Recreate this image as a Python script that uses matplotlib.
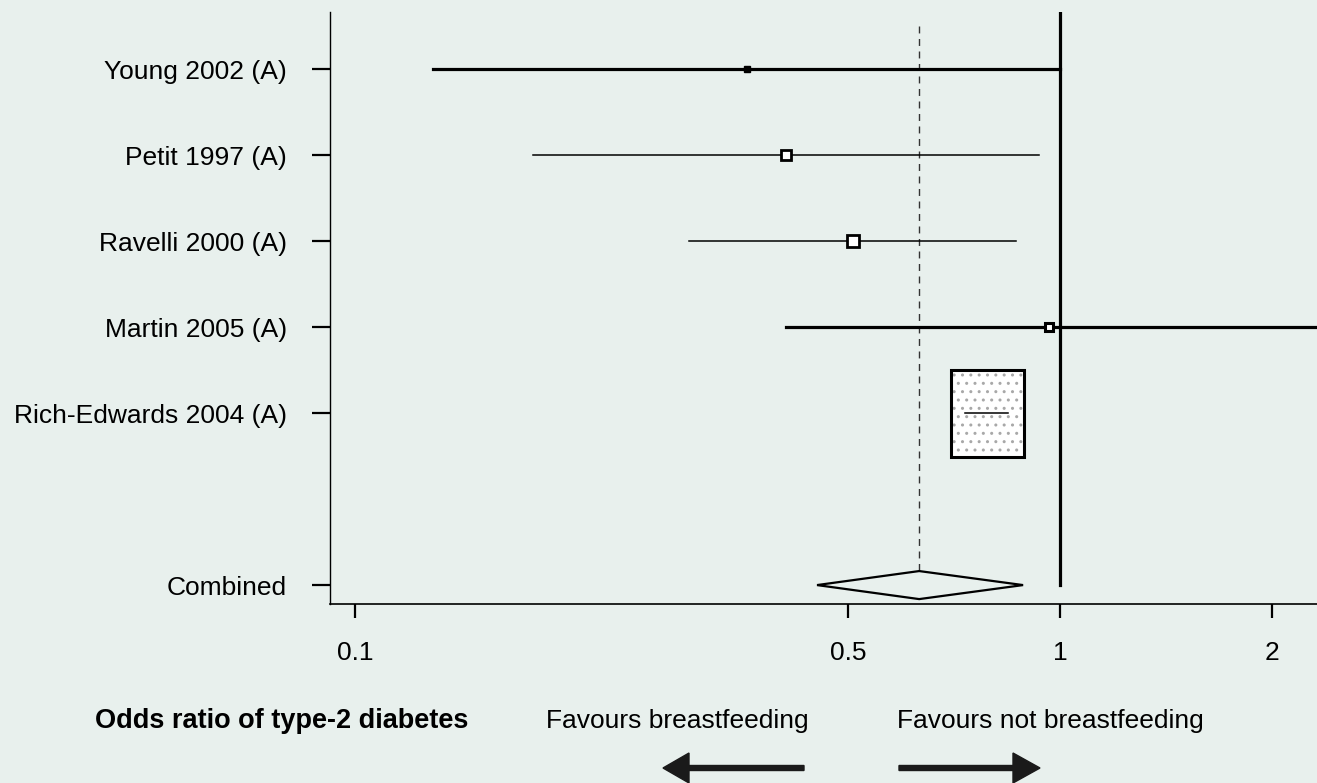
import numpy as np
import matplotlib
matplotlib.use('Agg')
import matplotlib.pyplot as plt
from matplotlib.patches import Rectangle, FancyArrow
from matplotlib.transforms import ScaledTranslation
from matplotlib.ticker import NullLocator

plt.rcParams['font.family'] = ['Liberation Sans', 'DejaVu Sans']
plt.rcParams['hatch.linewidth'] = 1.0

# study estimates (odds ratio with 95% CI)
studies = ['Young 2002 (A)', 'Petit 1997 (A)', 'Ravelli 2000 (A)',
           'Martin 2005 (A)', 'Rich-Edwards 2004 (A)']
odds = [0.359, 0.409, 0.509, 0.965, 0.789]
lower = [0.129, 0.179, 0.298, 0.409, 0.733]
upper = [1.00, 0.934, 0.866, 2.6, 0.844]

combined_label = 'Combined'
combined_or = 0.631
combined_lo = 0.452
combined_hi = 0.886

xticks = [0.1, 0.5, 1, 2]
xtick_labels = ['0.1', '0.5', '1', '2']

bg = '#e8f0ed'
# per-study drawing style: line width, marker kind, marker size
styles = [
    dict(lw=2.3, marker='s', ms=5, mfc='black', mew=1.0),
    dict(lw=1.1, marker='s', ms=6.5, mfc='white', mew=2.0),
    dict(lw=1.1, marker='s', ms=8, mfc='white', mew=2.0),
    dict(lw=2.3, marker='s', ms=6, mfc='white', mew=2.2),
    dict(lw=1.1, marker='box', w=0.73, h=0.87),
]

fig = plt.figure(figsize=(13.17, 7.83), dpi=100, facecolor=bg)
ax = fig.add_axes([330 / 1317, 1 - 604 / 783, 1 - 330 / 1317, (604 - 12) / 783])
ax.set_facecolor(bg)
ax.set_xscale('log')
ax.set_xlim(0.0921, 2.314)
ax.set_ylim(7.22, 0.337)

ypos = np.arange(1, len(studies) + 1)
combined_y = len(studies) + 2

# reference line at OR = 1 and dashed line at pooled estimate
ax.plot([1, 1], [0.337, combined_y], color='black', lw=2.3, zorder=2)
ax.plot([combined_or, combined_or], [0.5, combined_y - 0.163], color='#333333',
        lw=1.0, dashes=(5, 4), zorder=1)

for y, o, lo, hi, st in zip(ypos, odds, lower, upper, styles):
    if st['marker'] == 'box':
        tr = fig.dpi_scale_trans + ScaledTranslation(o, y, ax.transData)
        ax.add_patch(Rectangle((-st['w'] / 2, -st['h'] / 2), st['w'], st['h'],
                               transform=tr, facecolor='white', edgecolor='#a8a8a8',
                               hatch='..', lw=0, zorder=3))
        ax.add_patch(Rectangle((-st['w'] / 2, -st['h'] / 2), st['w'], st['h'],
                               transform=tr, facecolor='none', edgecolor='black',
                               lw=2.2, zorder=4))
        ax.plot([lo, hi], [y, y], color='black', lw=st['lw'], zorder=5)
    else:
        ax.plot([lo, hi], [y, y], color='black', lw=st['lw'], zorder=3)
        ax.plot([o], [y], marker=st['marker'], ms=st['ms'], mfc=st['mfc'],
                mec='black', mew=st['mew'], zorder=4)

# combined diamond
h = 0.163
ax.fill([combined_lo, combined_or, combined_hi, combined_or],
        [combined_y, combined_y - h, combined_y, combined_y + h],
        facecolor=bg, edgecolor='black', lw=1.6, zorder=3)

ax.set_yticks(list(ypos) + [combined_y])
ax.set_yticklabels(studies + [combined_label])
ax.set_xticks(xticks)
ax.set_xticklabels(xtick_labels)
ax.xaxis.set_minor_locator(NullLocator())
ax.tick_params(axis='y', length=13, width=1.6, pad=18, labelsize=19)
ax.tick_params(axis='x', length=10, width=1.6, pad=17, labelsize=19)
for s in ['top', 'right']:
    ax.spines[s].set_visible(False)
ax.spines['left'].set_linewidth(1.0)
ax.spines['bottom'].set_linewidth(1.2)

# bottom annotations
fig.text(95 / 1317, 1 - 721 / 783, 'Odds ratio of type-2 diabetes', fontsize=19.5,
         fontweight='bold', va='center', ha='left')
fig.text(546 / 1317, 1 - 721 / 783, 'Favours breastfeeding', fontsize=19,
         va='center', ha='left')
fig.text(897 / 1317, 1 - 721 / 783, 'Favours not breastfeeding', fontsize=19,
         va='center', ha='left')

ay = (783 - 768) / 100
fig.patches.append(FancyArrow(8.04, ay, -1.41, 0, width=0.05, head_width=0.30,
                              head_length=0.26, length_includes_head=True,
                              color='#1a1a1a', transform=fig.dpi_scale_trans))
fig.patches.append(FancyArrow(8.99, ay, 1.41, 0, width=0.05, head_width=0.30,
                              head_length=0.27, length_includes_head=True,
                              color='#1a1a1a', transform=fig.dpi_scale_trans))

fig.savefig('out.png', dpi=100, facecolor=bg)
